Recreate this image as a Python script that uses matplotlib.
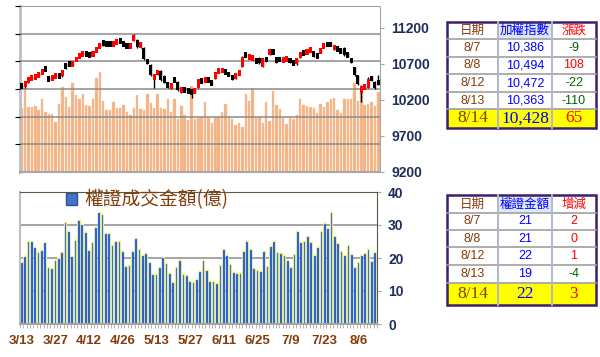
import matplotlib
matplotlib.use('Agg')
import matplotlib.pyplot as plt
from matplotlib.patches import Rectangle, Patch

# ---- data ----
date_ticks = [0, 10, 20, 30, 40, 50, 60, 70, 80, 90, 100]
date_labels = ['3/13', '3/27', '4/12', '4/26', '5/13', '5/27', '6/11', '6/25', '7/9', '7/23', '8/6']

opens = [10410, 10380, 10450, 10495, 10505, 10525, 10560, 10630, 10500, 10480,
         10520, 10535, 10525, 10700, 10700, 10690, 10745, 10790, 10830, 10860,
         10830, 10815, 10870, 10930, 11010, 10990, 10980, 10960, 10990, 11030,
         10990, 10960, 10940, 11020, 11030, 10920, 10920, 10760, 10680, 10500,
         10560, 10600, 10530, 10440, 10360, 10480, 10450, 10320, 10350, 10340,
         10330, 10300, 10370, 10490, 10450, 10500, 10440, 10490, 10580, 10600,
         10600, 10560, 10540, 10500, 10560, 10660, 10830, 10770, 10760, 10760,
         10780, 10660, 10780, 10820, 10870, 10790, 10770, 10740, 10750, 10770,
         10720, 10690, 10790, 10860, 10840, 10880, 10850, 10820, 10860, 10930,
         10980, 10980, 10900, 10920, 10900, 10920, 10840, 10770, 10650, 10540,
         10290, 10360, 10370, 10520, 10450, 10450]
closes = [10375, 10450, 10500, 10510, 10530, 10560, 10610, 10615, 10470, 10525,
          10530, 10525, 10615, 10640, 10690, 10700, 10775, 10830, 10850, 10820,
          10810, 10850, 10910, 10970, 10960, 10950, 10960, 10985, 11010, 11010,
          10960, 10940, 10960, 11090, 10930, 10990, 10760, 10700, 10540, 10540,
          10600, 10470, 10440, 10380, 10430, 10460, 10330, 10350, 10320, 10310,
          10290, 10350, 10490, 10440, 10490, 10460, 10430, 10580, 10610, 10615,
          10570, 10540, 10480, 10560, 10580, 10800, 10810, 10820, 10800, 10720,
          10710, 10780, 10740, 10900, 10860, 10720, 10750, 10760, 10780, 10720,
          10690, 10780, 10850, 10830, 10880, 10890, 10810, 10790, 10890, 10960,
          10950, 10950, 10950, 10890, 10860, 10820, 10810, 10720, 10540, 10420,
          10395, 10386, 10494, 10472, 10363, 10428]
highs = [10420, 10460, 10505, 10520, 10540, 10565, 10620, 10670, 10510, 10530,
         10540, 10545, 10620, 10710, 10710, 10710, 10780, 10835, 10860, 10870,
         10835, 10855, 10915, 10975, 11020, 10995, 10985, 10990, 11020, 11035,
         10995, 10965, 10965, 11110, 11040, 10995, 10930, 10770, 10690, 10550,
         10610, 10610, 10540, 10450, 10440, 10490, 10460, 10360, 10360, 10345,
         10335, 10355, 10495, 10500, 10495, 10505, 10450, 10585, 10620, 10620,
         10610, 10565, 10545, 10565, 10590, 10805, 10840, 10825, 10805, 10770,
         10790, 10785, 10790, 10905, 10880, 10800, 10775, 10765, 10790, 10775,
         10725, 10785, 10855, 10865, 10885, 10895, 10855, 10825, 10895, 10965,
         10990, 10985, 10955, 10925, 10905, 10925, 10845, 10775, 10660, 10545,
         10410, 10395, 10510, 10530, 10460, 10540]
lows = [10365, 10370, 10440, 10490, 10500, 10520, 10555, 10605, 10460, 10470,
        10515, 10515, 10520, 10630, 10680, 10685, 10740, 10785, 10825, 10815,
        10790, 10810, 10865, 10925, 10950, 10945, 10950, 10955, 10985, 11000,
        10955, 10930, 10935, 11015, 10920, 10915, 10750, 10690, 10530, 10370,
        10550, 10460, 10430, 10370, 10350, 10450, 10320, 10300, 10310, 10300,
        10230, 10290, 10365, 10430, 10445, 10450, 10420, 10485, 10575, 10595,
        10565, 10530, 10470, 10495, 10555, 10655, 10800, 10765, 10750, 10710,
        10700, 10650, 10730, 10815, 10850, 10710, 10740, 10735, 10745, 10710,
        10680, 10685, 10785, 10820, 10835, 10875, 10800, 10780, 10855, 10925,
        10940, 10940, 10895, 10880, 10850, 10810, 10800, 10710, 10530, 10410,
        10170, 10350, 10365, 10465, 10355, 10400]

volume = [1151, 1512, 1169, 1181, 1193, 1120, 1319, 1078, 1048, 1048,
          904, 1229, 1530, 1355, 1175, 1602, 1392, 1313, 1404, 1211,
          1193, 1319, 1693, 1813, 1289, 1120, 1120, 1265, 1163, 1163,
          1211, 1084, 1030, 1157, 1386, 1139, 1114, 1416, 1247, 1151,
          1404, 1151, 1139, 1313, 1084, 1313, 964, 1193, 1030, 934,
          1554, 964, 982, 1000, 1259, 970, 892, 1000, 1000, 1078,
          1223, 1000, 964, 849, 892, 813, 1410, 1283, 1512, 976,
          1000, 880, 1259, 922, 1464, 1211, 1133, 982, 867, 970,
          958, 1030, 1313, 1211, 1199, 1181, 1151, 1060, 1229, 1169,
          1271, 1319, 1343, 1120, 1060, 1313, 1313, 1313, 1602, 1283,
          1434, 1211, 1229, 1271, 1193, 1452]

warrant = [18.4, 20.2, 25.0, 24.7, 23.0, 21.6, 22.2, 24.4, 16.9, 16.6,
           19.1, 19.7, 21.6, 30.5, 28.0, 20.2, 25.2, 31.2, 30.0, 27.5,
           22.1, 24.4, 29.0, 33.5, 33.0, 27.2, 27.2, 23.6, 24.7, 25.0,
           21.9, 17.2, 17.6, 21.7, 25.7, 22.3, 20.6, 21.2, 18.4, 14.8,
           14.8, 16.9, 20.1, 18.2, 15.2, 12.3, 16.9, 19.1, 14.8, 14.5,
           12.8, 12.3, 13.3, 15.9, 19.2, 16.0, 12.8, 12.8, 12.0, 17.6,
           22.3, 20.6, 17.9, 15.4, 15.2, 15.2, 21.8, 25.0, 22.4, 16.6,
           16.2, 15.8, 21.8, 17.3, 23.3, 25.0, 21.4, 21.1, 20.5, 19.1,
           17.1, 20.9, 27.8, 24.5, 24.7, 26.5, 24.5, 20.5, 22.9, 27.9,
           30.3, 28.9, 33.5, 26.5, 24.2, 21.8, 20.6, 23.6, 20.9, 17.0,
           18.6, 20.7, 21.2, 22.3, 18.8, 21.6]

# side tables
tbl_dates = ['8/7', '8/8', '8/12', '8/13', '8/14']
tbl_index = [10386, 10494, 10472, 10363, 10428]
tbl_index_chg = [-9, 108, -22, -110, 65]
tbl_warrant = [21, 21, 22, 19, 22]
tbl_warrant_chg = [2, 0, 1, -4, 3]

x = list(range(len(closes)))

BROWN = '#843C0C'
NAVY = '#1F2D5A'
CJK = ['Noto Sans CJK TC', 'DejaVu Sans']
MIN_BODY = 80  # thinnest candle body, in index points, so small days still show

fig = plt.figure(figsize=(6, 3.57), dpi=100)

# ---- top panel: volume + candles ----
ax1 = fig.add_axes([20/600, 1-172/357, 360/600, 166/357])
ax1.bar(x, volume, width=0.72, color='#F4B183', edgecolor='#F8CBAD', linewidth=0.3, zorder=1)
ax1.set_ylim(0, 3000)
ax1.set_yticks(range(500, 3001, 500))
ax1.yaxis.grid(True, color='#8C8C8C', lw=1.1, zorder=2)
ax1.set_axisbelow(False)
ax1.set_xlim(-0.5, len(x)-0.5)
ax1.tick_params(left=False, labelleft=False, bottom=False, labelbottom=False)
ax1.spines['left'].set_color('#BFBFBF')
ax1.spines['left'].set_linewidth(2)
ax1.spines['top'].set_color('#D9D9D9')
ax1.spines['bottom'].set_color('#A6A6A6')
ax1.spines['bottom'].set_linewidth(1.5)
ax1.spines['right'].set_color('#A6A6A6')

axp = ax1.twinx()
cols = ['#FF0000' if c >= o else '#000000' for o, c in zip(opens, closes)]
bodies = [max(abs(c - o), MIN_BODY) for o, c in zip(opens, closes)]
bottoms = [(o + c) / 2 - b / 2 for o, c, b in zip(opens, closes, bodies)]
axp.vlines(x, lows, highs, color='#000000', lw=1.0, zorder=3)
axp.bar(x, bodies, bottom=bottoms, width=0.9, color=cols, zorder=4)
axp.set_ylim(9200, 11500)
axp.set_yticks(range(9200, 11201, 500))
axp.tick_params(axis='y', direction='out', length=3, color='#A6A6A6', pad=5,
                labelsize=10, labelcolor=NAVY)
for lbl in axp.get_yticklabels():
    lbl.set_fontweight('bold')
    lbl.set_family('Liberation Sans')
for s in axp.spines.values():
    s.set_visible(False)

# ---- bottom panel: warrant turnover ----
ax2 = fig.add_axes([20/600, 1-324/357, 357/600, 132/357])
ax2.bar(x, [v + 0.6 for v in warrant], width=0.95, color='#FFFF99', zorder=1)
ax2.bar(x, warrant, width=0.5, color='#1F5BC6', edgecolor='#6F8FD0', linewidth=0.3, zorder=2)
ax2.set_xlim(-0.5, len(x)-0.5)
ax2.set_ylim(0, 40)
ax2.set_yticks(range(0, 41, 10))
ax2.yaxis.grid(True, color='#8C8C8C', lw=1.1)
ax2.set_axisbelow(True)
ax2.yaxis.tick_right()
ax2.tick_params(axis='y', direction='out', length=3, color='#A6A6A6', pad=5,
                labelsize=10, labelcolor=NAVY)
for lbl in ax2.get_yticklabels():
    lbl.set_fontweight('bold')
    lbl.set_family('Liberation Sans')
ax2.set_xticks(date_ticks)
ax2.set_xticklabels(date_labels)
ax2.set_xticks([i - 0.5 for i in x] + [len(x) - 0.5], minor=True)
ax2.tick_params(axis='x', which='major', length=0, pad=8, labelsize=9.5, labelcolor=BROWN)
ax2.tick_params(axis='x', which='minor', length=3, color='#A6A6A6')
for lbl in ax2.get_xticklabels():
    lbl.set_fontweight('bold')
    lbl.set_family('Liberation Sans')
ax2.spines['left'].set_color('#BFBFBF')
ax2.spines['left'].set_linewidth(1.5)
ax2.spines['bottom'].set_color('#A6A6A6')
ax2.spines['bottom'].set_linewidth(1.5)
ax2.spines['top'].set_color('#5A5A40')
ax2.spines['right'].set_color('#5A5A40')

handle = Patch(facecolor='#4472C4', edgecolor='#2F528F')
ax2.legend([handle], ['權證成交金額(億)'], loc='upper left', bbox_to_anchor=(0.128, 1.02),
           frameon=False, prop={'family': CJK, 'size': 13.5}, labelcolor=BROWN,
           handlelength=0.6, handleheight=0.6, handletextpad=0.4, borderpad=0, borderaxespad=0)

# ---- side tables (pixel coordinates) ----
ax0 = fig.add_axes([0, 0, 1, 1])
ax0.set_xlim(0, 600)
ax0.set_ylim(357, 0)
ax0.axis('off')

tbl_x = [447, 498, 552, 596]
cx = [(tbl_x[i] + tbl_x[i+1]) / 2 for i in range(3)]


def draw_table(ye, heads, vals, chgs):
    ax0.add_patch(Rectangle((tbl_x[0], ye[5]), tbl_x[3]-tbl_x[0], ye[6]-ye[5], fc='#FFFF00', ec='none'))
    ax0.add_patch(Rectangle((tbl_x[1], ye[0]), tbl_x[2]-tbl_x[1], ye[1]-ye[0], fc='#DDE8F6', ec='none'))
    for y in ye[1:-1]:
        ax0.plot([tbl_x[0], tbl_x[3]], [y, y], color='#A0A0A0', lw=1.2)
    for xx in tbl_x[1:-1]:
        ax0.plot([xx, xx], [ye[0], ye[-1]], color='#B4B4CC', lw=1.4)
    ax0.add_patch(Rectangle((tbl_x[0], ye[0]), tbl_x[3]-tbl_x[0], ye[-1]-ye[0], fc='none', ec='#3B1F6B', lw=1.8))
    hy = (ye[0] + ye[1]) / 2
    for c, h, col in zip(cx, heads, [BROWN, '#0000FF', '#FF0000']):
        ax0.text(c, hy, h, ha='center', va='center', color=col, fontsize=9, family=CJK)
    for r in range(5):
        ry = (ye[r+1] + ye[r+2]) / 2
        last = r == 4
        fam = 'Liberation Serif' if last else 'Liberation Sans'
        fs = 12.5 if last else 9
        ccol = '#FF0000' if chgs[r] >= 0 else '#006400'
        ax0.text(cx[0], ry, tbl_dates[r], ha='center', va='center', color=BROWN, fontsize=fs, family=fam)
        ax0.text(cx[1], ry, vals[r], ha='center', va='center', color='#0000FF', fontsize=fs, family=fam)
        ax0.text(cx[2], ry, str(chgs[r]), ha='center', va='center', color=ccol, fontsize=fs, family=fam)


draw_table([22, 39, 57, 74, 92, 109, 128], ['日期', '加權指數', '漲跌'],
           ['{:,}'.format(v) for v in tbl_index], tbl_index_chg)
draw_table([195, 213, 230, 247, 265, 283, 305], ['日期', '權證金額', '增減'],
           [str(v) for v in tbl_warrant], tbl_warrant_chg)

fig.savefig('out.png', dpi=100)
plt.close(fig)
